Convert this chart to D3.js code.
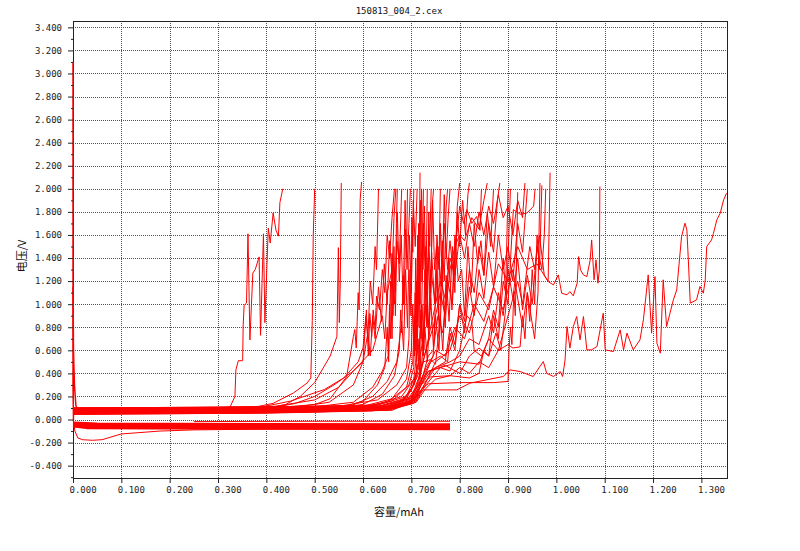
<!DOCTYPE html>
<html>
<head>
<meta charset="utf-8">
<style>
    body { margin: 0; background: #fff; }
    svg { display: block; }
    .tick text { font-family: 'DejaVu Sans Mono', monospace; font-size: 9px; fill: #222; }
    .domain { display: none; }
    .tick line { stroke: #222; }
    .grid line { stroke: #555; stroke-dasharray: 1,1; }
    .title { font-family: 'DejaVu Sans Mono', monospace; font-size: 9px; fill: #111; }
    .label { font-family: 'Noto Sans CJK SC', sans-serif; font-size: 11px; fill: #111; }
    .curve { fill: none; stroke: #ff0000; stroke-width: 1; }
    .band { fill: none; stroke: #ff0000; stroke-width: 2; }
</style>
</head>
<body>
<svg width="800" height="551"></svg>
<script src="https://d3js.org/d3.v7.min.js"></script>
<script>
// ticks
const xTicks = [0, 0.1, 0.2, 0.3, 0.4, 0.5, 0.6, 0.7, 0.8, 0.9, 1.0, 1.1, 1.2, 1.3]
const yTicks = [-0.4, -0.2, 0, 0.2, 0.4, 0.6, 0.8, 1.0, 1.2, 1.4, 1.6, 1.8, 2.0, 2.2, 2.4, 2.6, 2.8, 3.0, 3.2, 3.4]
const yMinor = [-0.5, -0.3, -0.1, 0.1, 0.3, 0.5, 0.7, 0.9, 1.1, 1.3, 1.5, 1.7, 1.9, 2.1, 2.3, 2.5, 2.7, 2.9, 3.1, 3.3]

// rest voltage and first points, [capacity mAh, voltage V]
const restDrop = [[0, 3.1], [0, 0.3], [0.001, 0.0]]
const firstSpike = [[0, 1.15], [0.001, 0.6], [0.003, 0.3], [0.006, 0.12], [0.01, 0.08]]

// discharge (plating) curves
const dis01 = [[0, 0.0], [0.004, -0.1], [0.01, -0.16], [0.02, -0.175], [0.04, -0.18], [0.06, -0.175], [0.1, -0.125], [0.18, -0.1], [0.25, -0.09], [0.35, -0.085], [0.5, -0.078], [0.65, -0.072], [0.78, -0.07]]
const dis02 = [[0, -0.03], [0.02, -0.04], [0.3, -0.045], [0.6, -0.05], [0.78, -0.055]]
const dis03 = [[0, -0.045], [0.02, -0.055], [0.3, -0.06], [0.6, -0.062], [0.78, -0.065]]
const dis04 = [[0, -0.06], [0.02, -0.07], [0.3, -0.072], [0.6, -0.075], [0.78, -0.078]]
const dis05 = [[0, -0.035], [0.03, -0.06], [0.3, -0.065], [0.6, -0.07], [0.78, -0.072]]
const dis06 = [[0, -0.05], [0.03, -0.075], [0.3, -0.08], [0.6, -0.082], [0.78, -0.085]]
const dis07 = [[0, -0.04], [0.03, -0.05], [0.3, -0.052], [0.6, -0.057], [0.78, -0.06]]
const dis08 = [[0, -0.025], [0.05, -0.035], [0.4, -0.038], [0.78, -0.04]]
const dis09 = [[0.25, -0.018], [0.5, -0.015], [0.78, -0.015]]

// charge (stripping) curves
const chg01 = [[0, 0.075], [0.15, 0.08], [0.3, 0.09], [0.325, 0.11], [0.335, 0.2], [0.337, 0.43], [0.342, 0.51], [0.351, 0.51], [0.352, 0.81], [0.354, 0.99], [0.359, 1.01], [0.362, 1.61], [0.366, 0.69], [0.372, 1.27], [0.377, 1.3], [0.385, 1.41], [0.388, 0.73], [0.394, 1.61], [0.397, 0.84], [0.404, 1.66], [0.408, 1.53], [0.414, 1.79], [0.42, 1.64], [0.425, 1.59], [0.428, 1.88], [0.434, 2.0]]
const chg02 = [[0, 0.07], [0.2, 0.075], [0.35, 0.085], [0.414, 0.14], [0.456, 0.23], [0.484, 0.315], [0.492, 0.36], [0.495, 0.86], [0.497, 1.59], [0.5, 2.0]]
const chg03 = [[0, 0.065], [0.2, 0.07], [0.38, 0.085], [0.44, 0.13], [0.47, 0.2], [0.5, 0.32], [0.532, 0.55], [0.546, 0.72], [0.549, 1.49], [0.551, 0.84], [0.553, 1.2], [0.555, 2.05]]
const chg04 = [[0, 0.08], [0.2, 0.085], [0.4, 0.095], [0.5, 0.13], [0.532, 0.18], [0.566, 0.37], [0.58, 0.72], [0.583, 0.78], [0.586, 0.62], [0.59, 1.1], [0.592, 0.95], [0.594, 1.9], [0.597, 2.06]]
const chg05 = [[0, 0.06], [0.25, 0.07], [0.45, 0.1], [0.53, 0.15], [0.58, 0.3], [0.6, 0.5], [0.607, 0.95], [0.611, 0.55], [0.614, 0.92], [0.618, 0.72], [0.621, 0.95], [0.625, 0.78], [0.628, 1.07], [0.634, 0.95], [0.64, 1.3], [0.645, 1.1], [0.65, 1.6], [0.655, 1.4], [0.66, 1.75], [0.665, 2.0]]
const chg06 = [[0, 0.09], [0.3, 0.1], [0.5, 0.11], [0.58, 0.15], [0.62, 0.28], [0.64, 0.42], [0.652, 0.55], [0.655, 1.0], [0.657, 0.7], [0.66, 1.44], [0.662, 0.9], [0.665, 1.3], [0.667, 1.1], [0.669, 1.7], [0.671, 2.0]]
const chg07 = [[0, 0.055], [0.3, 0.065], [0.5, 0.08], [0.6, 0.13], [0.64, 0.22], [0.665, 0.38], [0.675, 0.6], [0.678, 0.95], [0.68, 0.75], [0.683, 1.25], [0.685, 1.0], [0.688, 1.65], [0.69, 1.4], [0.692, 2.0]]
const chg08 = [[0, 0.1], [0.3, 0.105], [0.55, 0.115], [0.63, 0.17], [0.67, 0.3], [0.69, 0.45], [0.695, 0.7], [0.697, 1.3], [0.699, 0.9], [0.701, 1.75], [0.703, 1.45], [0.705, 2.0]]
const chg09 = [[0, 0.065], [0.35, 0.075], [0.58, 0.095], [0.65, 0.15], [0.69, 0.28], [0.703, 0.5], [0.706, 0.9], [0.708, 0.6], [0.71, 1.2], [0.712, 0.85], [0.714, 1.55], [0.716, 1.3], [0.718, 2.14]]
const chg10 = [[0, 0.085], [0.35, 0.09], [0.6, 0.11], [0.66, 0.16], [0.695, 0.3], [0.705, 0.45], [0.708, 1.1], [0.71, 0.5], [0.713, 1.6], [0.716, 0.8], [0.719, 1.9], [0.722, 1.2], [0.725, 2.0]]
const chg11 = [[0, 0.05], [0.4, 0.06], [0.6, 0.08], [0.67, 0.13], [0.7, 0.25], [0.71, 0.4], [0.714, 0.7], [0.718, 0.35], [0.722, 1.0], [0.726, 0.6], [0.73, 1.5], [0.733, 0.9], [0.736, 1.8], [0.738, 1.5], [0.741, 2.0]]
const chg12 = [[0, 0.095], [0.4, 0.1], [0.62, 0.12], [0.68, 0.2], [0.705, 0.35], [0.712, 0.6], [0.716, 1.3], [0.72, 0.7], [0.725, 1.7], [0.73, 1.1], [0.735, 1.4], [0.74, 0.95], [0.743, 1.85], [0.746, 2.0]]
const chg13 = [[0, 0.07], [0.4, 0.08], [0.62, 0.1], [0.68, 0.16], [0.706, 0.3], [0.715, 0.45], [0.72, 0.95], [0.725, 0.55], [0.73, 1.2], [0.736, 0.7], [0.742, 1.45], [0.748, 1.0], [0.753, 1.6], [0.757, 1.3], [0.76, 2.0]]
const chg14 = [[0, 0.045], [0.4, 0.055], [0.62, 0.075], [0.685, 0.13], [0.71, 0.28], [0.72, 0.42], [0.728, 0.8], [0.733, 0.5], [0.74, 1.05], [0.746, 0.6], [0.752, 1.3], [0.758, 0.75], [0.764, 1.55], [0.768, 1.2], [0.772, 1.85], [0.775, 2.0]]
const chg15 = [[0, 0.08], [0.4, 0.09], [0.63, 0.11], [0.69, 0.18], [0.71, 0.35], [0.725, 0.5], [0.74, 0.52], [0.75, 0.48], [0.76, 0.9], [0.765, 0.6], [0.772, 1.25], [0.778, 0.85], [0.785, 1.5], [0.79, 1.1], [0.795, 1.85], [0.8, 2.05]]
const chg16 = [[0, 0.06], [0.4, 0.07], [0.64, 0.09], [0.7, 0.16], [0.72, 0.32], [0.735, 0.55], [0.745, 0.6], [0.755, 0.9], [0.765, 0.75], [0.775, 1.2], [0.785, 1.0], [0.79, 1.45], [0.8, 1.85], [0.808, 1.7], [0.815, 1.82], [0.825, 1.7], [0.835, 1.76], [0.842, 1.64], [0.845, 2.0]]
const chg17 = [[0, 0.1], [0.4, 0.11], [0.64, 0.125], [0.7, 0.2], [0.715, 0.3], [0.73, 0.4], [0.75, 0.45], [0.77, 0.5], [0.78, 0.8], [0.79, 0.65], [0.8, 1.0], [0.81, 0.85], [0.82, 1.3], [0.83, 1.1], [0.84, 1.5], [0.85, 1.25], [0.86, 1.7], [0.87, 1.45], [0.878, 1.9], [0.883, 2.05]]
const chg18 = [[0, 0.055], [0.4, 0.065], [0.65, 0.085], [0.7, 0.14], [0.72, 0.26], [0.735, 0.31], [0.8, 0.32], [0.87, 0.32], [0.9, 0.33], [0.902, 0.6], [0.905, 0.8], [0.908, 0.65], [0.912, 1.1], [0.915, 0.9], [0.918, 1.5], [0.92, 1.97]]
const chg19 = [[0, 0.075], [0.4, 0.085], [0.65, 0.1], [0.7, 0.15], [0.72, 0.3], [0.74, 0.37], [0.78, 0.38], [0.82, 0.36], [0.84, 0.4], [0.85, 0.6], [0.86, 0.55], [0.87, 0.9], [0.88, 0.7], [0.89, 1.2], [0.9, 1.0], [0.911, 1.82], [0.925, 1.78], [0.939, 1.79], [0.953, 1.85], [0.956, 2.0]]
const chg20 = [[0, 0.09], [0.42, 0.1], [0.65, 0.12], [0.71, 0.2], [0.73, 0.4], [0.75, 0.6], [0.77, 0.55], [0.79, 0.8], [0.81, 0.7], [0.83, 1.0], [0.85, 0.85], [0.87, 1.15], [0.89, 0.95], [0.91, 1.3], [0.93, 0.8], [0.94, 1.1], [0.955, 0.7], [0.962, 1.1], [0.966, 2.05]]
const chg21 = [[0, 0.065], [0.42, 0.075], [0.66, 0.095], [0.71, 0.16], [0.73, 0.3], [0.76, 0.45], [0.8, 0.5], [0.84, 0.48], [0.86, 0.7], [0.88, 0.6], [0.9, 0.9], [0.92, 1.2], [0.93, 1.0], [0.945, 1.5], [0.955, 1.3], [0.965, 1.6], [0.975, 1.25], [0.983, 1.2], [0.987, 2.14]]
const chg22 = [[0, 0.08], [0.42, 0.09], [0.66, 0.105], [0.71, 0.18], [0.73, 0.32], [0.75, 0.5], [0.78, 0.6], [0.8, 0.9], [0.82, 0.75], [0.84, 1.1], [0.86, 0.95], [0.88, 1.35], [0.9, 1.2], [0.92, 1.5], [0.94, 1.3], [0.96, 1.35], [0.983, 1.196], [0.994, 1.167], [1.004, 1.254], [1.011, 1.095], [1.022, 1.081], [1.028, 1.109], [1.035, 1.072], [1.043, 1.182], [1.046, 1.412], [1.05, 1.297], [1.056, 1.254], [1.063, 1.239], [1.07, 1.384], [1.073, 1.557], [1.078, 1.211], [1.082, 1.384], [1.086, 1.182], [1.089, 1.297], [1.09, 2.02]]
const chg23 = [[0, 0.05], [0.42, 0.06], [0.66, 0.08], [0.7, 0.15], [0.715, 0.22], [0.725, 0.257], [0.794, 0.257], [0.821, 0.315], [0.89, 0.373], [0.904, 0.43], [0.925, 0.416], [0.952, 0.373], [0.973, 0.503], [0.98, 0.4], [0.994, 0.373], [1.008, 0.416], [1.013, 0.373], [1.018, 0.517], [1.022, 0.806], [1.028, 0.619], [1.035, 0.806], [1.042, 0.893], [1.049, 0.691], [1.056, 0.893], [1.063, 0.604], [1.073, 0.604], [1.084, 0.633], [1.097, 0.922], [1.101, 0.604], [1.118, 0.589], [1.132, 0.777], [1.139, 0.604], [1.146, 0.749], [1.159, 0.604], [1.173, 0.691], [1.18, 0.864], [1.19, 1.254], [1.197, 0.749], [1.204, 1.239], [1.208, 0.662], [1.215, 0.575], [1.221, 1.211], [1.228, 0.806], [1.242, 1.037], [1.249, 1.124], [1.259, 1.586], [1.266, 1.702], [1.27, 1.644], [1.273, 1.384], [1.277, 1.009], [1.29, 1.037], [1.297, 1.153], [1.304, 1.095], [1.308, 1.211], [1.311, 1.499], [1.321, 1.557], [1.325, 1.615], [1.332, 1.731], [1.339, 1.789], [1.346, 1.904], [1.352, 1.962]]
const chg24 = [[0, 0.07], [0.42, 0.08], [0.66, 0.1], [0.705, 0.17], [0.72, 0.3], [0.74, 0.42], [0.77, 0.47], [0.8, 0.4], [0.82, 0.55], [0.84, 0.62], [0.86, 0.55], [0.875, 0.75], [0.885, 0.6], [0.895, 0.95], [0.9, 1.4], [0.905, 2.0]]
const chg25 = [[0, 0.095], [0.42, 0.1], [0.65, 0.115], [0.7, 0.19], [0.715, 0.36], [0.73, 0.6], [0.745, 0.8], [0.76, 1.1], [0.77, 0.9], [0.78, 1.3], [0.79, 1.5], [0.8, 1.6], [0.81, 1.55], [0.825, 1.75], [0.84, 1.65], [0.85, 1.9], [0.857, 2.05]]
const chg26 = [[0, 0.085], [0.3, 0.09], [0.38, 0.1], [0.45, 0.16], [0.52, 0.26], [0.56, 0.36], [0.59, 0.5], [0.6, 0.62], [0.606, 0.9], [0.61, 0.7], [0.615, 1.2], [0.62, 1.0], [0.625, 1.5], [0.628, 1.3], [0.632, 2.0]]
const chg27 = [[0, 0.06], [0.3, 0.07], [0.4, 0.09], [0.46, 0.14], [0.5, 0.2], [0.54, 0.3], [0.58, 0.42], [0.62, 0.6], [0.63, 0.75], [0.64, 0.9], [0.645, 0.7], [0.65, 1.1], [0.66, 1.3], [0.665, 1.0], [0.67, 1.55], [0.675, 1.35], [0.68, 2.0]]
const chg28 = [[0, 0.07], [0.35, 0.08], [0.55, 0.1], [0.6, 0.16], [0.63, 0.3], [0.645, 0.45], [0.65, 0.8], [0.653, 0.5], [0.657, 1.2], [0.66, 0.7], [0.664, 1.5], [0.667, 0.9], [0.671, 1.8], [0.675, 1.2], [0.679, 1.6], [0.683, 1.0], [0.687, 1.9], [0.691, 1.3], [0.695, 1.7], [0.698, 2.0]]
const chg29 = [[0, 0.09], [0.4, 0.1], [0.6, 0.115], [0.66, 0.18], [0.69, 0.35], [0.7, 0.6], [0.703, 1.0], [0.706, 0.55], [0.709, 1.4], [0.712, 0.75], [0.715, 1.7], [0.718, 1.0], [0.721, 2.0], [0.724, 1.3], [0.727, 1.85], [0.73, 1.1], [0.733, 2.0]]
const chg30 = [[0, 0.055], [0.4, 0.065], [0.62, 0.085], [0.68, 0.14], [0.705, 0.3], [0.715, 0.5], [0.72, 0.9], [0.724, 0.6], [0.728, 1.3], [0.732, 0.8], [0.736, 1.6], [0.74, 1.1], [0.744, 1.9], [0.748, 1.3], [0.752, 1.5], [0.756, 0.9], [0.76, 1.7], [0.764, 1.2], [0.768, 1.95], [0.772, 1.4], [0.776, 1.75], [0.78, 2.0]]
const chg31 = [[0, 0.1], [0.42, 0.11], [0.63, 0.125], [0.69, 0.2], [0.71, 0.4], [0.725, 0.7], [0.73, 1.0], [0.735, 0.8], [0.74, 1.3], [0.75, 1.0], [0.755, 1.5], [0.762, 1.15], [0.768, 1.7], [0.775, 1.3], [0.78, 1.55], [0.788, 1.2], [0.795, 1.8], [0.8, 1.5], [0.806, 1.9], [0.812, 1.6], [0.817, 1.95], [0.82, 2.05]]
const chg32 = [[0, 0.06], [0.42, 0.07], [0.64, 0.09], [0.7, 0.15], [0.715, 0.28], [0.73, 0.45], [0.745, 0.55], [0.75, 0.9], [0.757, 0.6], [0.764, 1.2], [0.77, 0.8], [0.777, 1.4], [0.784, 0.95], [0.79, 1.6], [0.797, 1.2], [0.804, 1.3], [0.81, 0.9], [0.817, 1.5], [0.824, 1.1], [0.83, 1.7], [0.837, 1.35], [0.844, 1.55], [0.85, 1.25], [0.857, 1.8], [0.864, 1.5], [0.87, 2.0]]
const chg33 = [[0, 0.085], [0.42, 0.095], [0.65, 0.11], [0.7, 0.18], [0.72, 0.35], [0.74, 0.5], [0.76, 0.55], [0.775, 0.5], [0.78, 0.75], [0.79, 0.6], [0.8, 1.0], [0.81, 0.75], [0.82, 1.15], [0.83, 0.9], [0.84, 1.3], [0.85, 1.05], [0.86, 1.45], [0.87, 1.15], [0.88, 1.6], [0.89, 1.3], [0.9, 1.5], [0.91, 1.2], [0.92, 1.7], [0.93, 1.45], [0.94, 2.0]]
const chg34 = [[0, 0.075], [0.42, 0.085], [0.66, 0.1], [0.71, 0.17], [0.73, 0.33], [0.75, 0.45], [0.78, 0.5], [0.8, 0.55], [0.82, 0.7], [0.84, 0.65], [0.86, 0.9], [0.87, 0.75], [0.88, 1.1], [0.89, 0.9], [0.9, 1.3], [0.91, 1.05], [0.92, 1.4], [0.93, 0.95], [0.94, 1.25], [0.95, 1.0], [0.96, 1.5], [0.97, 1.3], [0.975, 1.6], [0.978, 2.0]]
const chg35 = [[0, 0.065], [0.42, 0.075], [0.66, 0.09], [0.71, 0.15], [0.73, 0.27], [0.75, 0.35], [0.78, 0.38], [0.8, 0.45], [0.82, 0.4], [0.84, 0.5], [0.86, 0.45], [0.88, 0.6], [0.9, 0.65], [0.91, 0.62], [0.925, 0.63], [0.93, 0.9], [0.935, 0.7], [0.94, 1.1], [0.945, 0.85], [0.95, 1.3], [0.955, 1.0], [0.96, 1.6], [0.965, 1.3], [0.97, 2.03]]
const chg36 = [[0, 0.05], [0.42, 0.06], [0.65, 0.08], [0.705, 0.14], [0.72, 0.3], [0.735, 0.42], [0.76, 0.45], [0.78, 0.42], [0.8, 0.6], [0.81, 0.8], [0.815, 0.9], [0.825, 0.85], [0.83, 0.6], [0.845, 0.55], [0.86, 0.7], [0.87, 0.95], [0.88, 0.8], [0.89, 1.4], [0.895, 1.1], [0.9, 2.0]]
const chg37 = [[0, 0.1], [0.3, 0.105], [0.42, 0.115], [0.5, 0.17], [0.55, 0.28], [0.58, 0.42], [0.6, 0.5], [0.61, 0.75], [0.615, 0.55], [0.62, 0.9], [0.625, 0.7], [0.632, 1.15], [0.638, 0.85], [0.644, 1.35], [0.65, 1.0], [0.655, 1.55], [0.66, 1.25], [0.664, 1.75], [0.668, 2.0]]
const chg38 = [[0, 0.045], [0.35, 0.055], [0.5, 0.07], [0.57, 0.11], [0.62, 0.2], [0.65, 0.33], [0.67, 0.5], [0.68, 0.85], [0.684, 0.6], [0.688, 1.3], [0.692, 0.8], [0.696, 1.6], [0.7, 1.1], [0.704, 1.9], [0.708, 1.5], [0.712, 2.0]]
const chg39 = [[0, 0.08], [0.42, 0.09], [0.65, 0.105], [0.7, 0.17], [0.715, 0.32], [0.73, 0.6], [0.745, 0.9], [0.76, 1.2], [0.77, 1.05], [0.78, 1.4], [0.79, 1.25], [0.8, 1.6], [0.81, 1.4], [0.82, 1.7], [0.83, 1.5], [0.84, 1.8], [0.85, 1.6], [0.86, 1.85], [0.87, 1.7], [0.88, 1.95], [0.89, 1.75], [0.9, 1.85], [0.91, 1.6], [0.92, 1.9], [0.93, 1.75], [0.935, 2.05]]

const dischargeCurves = [dis02, dis03, dis04, dis05, dis06, dis07, dis08]
const chargeCurves = [chg01, chg02, chg03, chg04, chg05, chg06, chg07, chg08, chg09, chg10, chg11, chg12, chg13,
    chg14, chg15, chg16, chg17, chg18, chg19, chg20, chg21, chg22, chg23, chg24, chg25, chg26, chg27, chg28,
    chg29, chg30, chg31, chg32, chg33, chg34, chg35, chg36, chg37, chg38, chg39]

let margin = { top: 21, right: 73, bottom: 73, left: 73 }
let width = 800
let height = 551

let svg = d3.select("svg")

let x = d3.scaleLinear()
    .domain([0, 1.353])
    .range([margin.left, width - margin.right])

let y = d3.scaleLinear()
    .domain([-0.507, 3.455])
    .range([height - margin.bottom, margin.top])

svg.append("defs").append("clipPath")
    .attr("id", "plot")
    .append("rect")
    .attr("x", x(0) - 2)
    .attr("y", y(3.455))
    .attr("width", x(1.353) - x(0) + 2)
    .attr("height", y(-0.507) - y(3.455))

// grid
let grid = svg.append("g").attr("class", "grid")
grid.selectAll(".gx")
    .data(xTicks.slice(1))
    .join("line")
    .attr("x1", d => Math.round(x(d)) + 0.5)
    .attr("x2", d => Math.round(x(d)) + 0.5)
    .attr("y1", y(3.455))
    .attr("y2", y(-0.507))
grid.selectAll(".gy")
    .data(yTicks)
    .join("line")
    .attr("x1", x(0))
    .attr("x2", x(1.353))
    .attr("y1", d => Math.round(y(d)) + 0.5)
    .attr("y2", d => Math.round(y(d)) + 0.5)

// frame
svg.append("rect")
    .attr("x", x(0) + 0.5)
    .attr("y", y(3.455) + 0.5)
    .attr("width", x(1.353) - x(0))
    .attr("height", y(-0.507) - y(3.455))
    .style("fill", "none")
    .style("stroke", "#222")
    .style("stroke-width", 1)

let line = d3.line()
    .x(d => x(d[0]))
    .y(d => y(d[1]))

let curves = svg.append("g").attr("clip-path", "url(#plot)")

curves.selectAll(".band")
    .data(dischargeCurves)
    .join("path")
    .attr("class", "band")
    .attr("d", line)

curves.selectAll(".dis")
    .data([dis01, dis09])
    .join("path")
    .attr("class", "curve dis")
    .attr("d", line)

curves.selectAll(".chg")
    .data(chargeCurves)
    .join("path")
    .attr("class", "curve chg")
    .attr("d", line)

curves.selectAll(".start")
    .data([restDrop, firstSpike])
    .join("path")
    .attr("class", "curve start")
    .style("stroke-width", 1.5)
    .attr("d", line)

// axes
let yAxis = svg.append("g")
    .attr("transform", `translate(${x(0)},0)`)
    .call(d3.axisLeft(y).tickValues(yTicks).tickSize(5).tickPadding(6).tickFormat(d3.format(".3f")))
yAxis.selectAll(".tick text").text(d => d3.format(".3f")(d).replace("−", "-"))

svg.append("g")
    .attr("transform", `translate(${x(0)},0)`)
    .call(d3.axisLeft(y).tickValues(yMinor).tickSize(2).tickFormat(""))

let xAxis = svg.append("g")
    .attr("transform", `translate(0,${y(-0.507)})`)
    .call(d3.axisBottom(x).tickValues(xTicks).tickSize(5).tickPadding(4).tickFormat(d3.format(".3f")))
xAxis.selectAll(".tick text")
    .attr("text-anchor", "start")
    .attr("x", -4)

// texts
svg.append("text")
    .attr("class", "title")
    .attr("x", 399)
    .attr("y", 14)
    .attr("text-anchor", "middle")
    .text("150813_004_2.cex")

svg.append("text")
    .attr("class", "label")
    .attr("x", 399)
    .attr("y", 516)
    .attr("text-anchor", "middle")
    .text("容量/mAh")

svg.append("text")
    .attr("class", "label")
    .attr("transform", "translate(26,256) rotate(-90)")
    .attr("text-anchor", "middle")
    .text("电压/V")
</script>
</body>
</html>
